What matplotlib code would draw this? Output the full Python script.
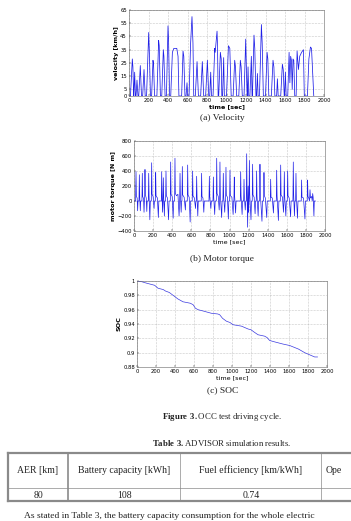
import matplotlib
matplotlib.use("Agg")
import matplotlib.pyplot as plt

plt.rcParams["mathtext.fontset"] = "custom"
plt.rcParams["mathtext.rm"] = "Liberation Serif"
plt.rcParams["mathtext.bf"] = "Liberation Serif:bold"

# velocity breakpoints of the OCC cycle [s], [km/h]
vel_t = [0, 15, 34, 40, 48, 50, 58, 66, 72, 82, 92, 100, 116, 128, 140, 154, 166,
         180, 202, 210, 220, 232, 246, 252, 262, 286, 304, 310, 322, 336, 352, 358, 370,
         384, 400, 406, 416, 428, 445, 460, 490, 503, 512, 540, 554, 562, 574,
         585, 595, 602, 616, 632, 646, 656, 664, 680, 698, 712, 735, 752, 766,
         786, 804, 818, 828, 838, 846, 862, 879, 884, 903, 908, 914, 920, 937, 946, 952,
         960, 971, 978, 1000, 1020, 1034, 1048, 1068, 1084, 1092, 1104, 1126, 1142, 1150, 1162,
         1180, 1197, 1204, 1212, 1214, 1221, 1228, 1240, 1255, 1262, 1266, 1282, 1290, 1302,
         1308, 1317, 1324, 1338, 1358, 1366, 1378, 1400, 1416, 1424, 1434, 1460, 1477, 1486, 1496,
         1514, 1522, 1530, 1556, 1573, 1582, 1592, 1596, 1604, 1612,
         1628, 1642, 1650, 1658, 1666, 1674, 1682, 1690, 1700,
         1714, 1724, 1738, 1751, 1770, 1789, 1798, 1830, 1845, 1861, 1872, 1895]
vel_kmh = [0, 0, 28, 22, 0, 0, 18, 0, 0, 12, 0, 0, 23, 0, 0, 20, 0,
           0, 48, 30, 0, 0, 27, 24, 0, 0, 42, 38, 0, 0, 35, 30, 0,
           0, 53, 42, 0, 0, 33, 36, 36, 30, 0, 0, 34, 30, 0,
           0, 10, 0, 0, 40, 60, 40, 0, 0, 26, 0, 0, 26, 0,
           0, 27, 0, 0, 18, 0, 0, 36, 33, 49, 38, 0, 0, 33, 28, 0,
           0, 29, 0, 0, 38, 36, 0, 0, 27, 22, 0, 0, 27, 22, 0,
           0, 43, 20, 0, 0, 22, 0, 0, 30, 0, 0, 46, 36, 0,
           0, 17, 0, 0, 54, 40, 0, 0, 33, 28, 0, 0, 27, 22, 0,
           0, 13, 0, 0, 24, 20, 0, 0, 18, 0,
           0, 33, 10, 30, 27, 5, 28, 27, 0,
           0, 34, 20, 30, 33, 35, 0, 0, 28, 37, 36, 0]

# motor torque breakpoints [s], [N m]
torque_t = [0, 16, 21, 25, 33, 38, 42, 52, 56, 60, 66, 70,
            83, 87, 91, 100, 105, 109, 111, 115, 119, 128, 134, 138,
            150, 154, 158, 166, 171, 181, 185, 189, 200, 210, 214,
            223, 227, 231, 245, 255, 260, 286, 290, 294, 299, 303, 307, 311, 318, 322,
            331, 335, 339, 350, 362, 367, 380, 384, 388, 400, 410, 415,
            425, 429, 433, 445, 460, 472, 477, 478, 482, 486, 494, 498,
            502, 506, 510, 525, 538, 542, 558, 562, 566, 578, 588, 593,
            610, 614, 618, 632, 644, 648, 652, 656, 660, 668, 673,
            704, 708, 712, 722, 731, 736, 785, 789, 793, 805, 810,
            827, 831, 835, 845, 850, 862, 866, 870, 882, 892, 896, 900, 904, 918, 923,
            931, 935, 939, 950, 955, 959, 963, 967, 978, 988, 993,
            1001, 1005, 1009, 1025, 1038, 1043, 1046, 1050, 1054, 1064, 1069,
            1113, 1117, 1121, 1132, 1137, 1148, 1152, 1156, 1165, 1170,
            1176, 1180, 1184, 1190, 1195, 1200, 1204, 1208, 1212, 1225, 1230,
            1238, 1242, 1246, 1258, 1268, 1273, 1280, 1284, 1288, 1300, 1305,
            1315, 1319, 1323, 1340, 1345, 1357, 1361, 1365, 1375, 1390, 1395,
            1427, 1431, 1435, 1448, 1460, 1465, 1490, 1494, 1498, 1512, 1517,
            1532, 1536, 1540, 1555, 1565, 1569, 1570, 1574, 1578, 1590, 1595,
            1605, 1609, 1613, 1625, 1640, 1645, 1664, 1668, 1672, 1680, 1685,
            1692, 1696, 1700, 1712, 1717, 1751, 1755, 1759, 1775, 1790, 1795,
            1814, 1818, 1822, 1830, 1838, 1843, 1848, 1860, 1866, 1871, 1876, 1884, 1888, 1900]
torque_nm = [0, 0, 390, 60, 40, -130, 0, 0, 350, 50, -130, 0,
             0, 370, 60, 30, -150, 0, 0, 420, 80, 40, -140, 0,
             0, 370, 60, -250, 0, 0, 510, 90, 60, -100, 0,
             0, 380, 70, 40, -220, 0, 0, 390, 60, -150, 0, 310, 50, -200, 0,
             0, 400, 70, 40, -250, 0, 0, 520, 90, 60, -230, 0,
             0, 570, 100, 70, 90, -200, 0, 0, 370, 60, -150, 0,
             0, 460, 80, 50, -120, 0, 0, 480, 80, 50, -280, 0,
             0, 400, 70, 40, -100, 0, 0, 330, 60, -200, 0,
             0, 370, 60, 40, -150, 0, 0, 330, 60, -100, 0,
             0, 320, 50, -180, 0, 0, 570, 100, 60, -120, 0, 520, 90, -220, 0,
             0, 370, 60, -150, 0, 0, 450, 80, 50, -240, 0,
             0, 410, 70, 50, -180, 0, 0, 320, 60, -160, 0,
             0, 390, 70, -180, 0, 0, 290, 50, -120, 0,
             0, 630, 100, -350, 200, -150, 0, 540, 90, -250, 0,
             0, 490, 80, 50, -170, 0, 0, 400, 70, -200, 0,
             0, 490, 90, -270, 0, 0, 380, 70, 40, -220, 0,
             0, 290, 50, 40, -160, 0, 0, 410, 70, -260, 0,
             0, 480, 80, 50, -150, 0, 0, 390, 60, -200, 0,
             0, 400, 70, 40, -210, 0, 0, 520, 80, -200, 0,
             0, 370, 60, -230, 0, 0, 280, 50, 40, -240, 0,
             0, 280, 60, 40, 0, 150, 40, 60, 0, 100, 50, -200, 0, 0]

# battery state of charge
soc_t = [0, 50, 100, 186, 220, 277, 300, 340, 400, 430, 484, 560, 590, 615, 642, 700,
         782, 850, 870, 900, 940, 980, 1010, 1100, 1170, 1200, 1230, 1274, 1344, 1370,
         1396, 1450, 1537, 1607, 1700, 1765, 1800, 1835, 1870, 1900]
soc = [1.0, 0.999, 0.997, 0.994, 0.990, 0.988, 0.986, 0.984, 0.978, 0.975, 0.971, 0.969,
       0.967, 0.962, 0.960, 0.958, 0.955, 0.954, 0.953, 0.948, 0.944, 0.942, 0.939, 0.937,
       0.933, 0.932, 0.929, 0.925, 0.923, 0.921, 0.917, 0.915, 0.912, 0.910, 0.905, 0.900,
       0.898, 0.896, 0.894, 0.894]

time_ticks = list(range(0, 2001, 200))
vel_ticks = [0, 5, 15, 25, 35, 45, 55, 65]
torque_ticks = list(range(-400, 801, 200))
soc_ticks = [0.88, 0.90, 0.92, 0.94, 0.96, 0.98, 1.0]
soc_labels = ["0.88", "0.9", "0.92", "0.94", "0.96", "0.98", "1"]

# table 3 contents
table_head = ["AER [km]", "Battery capacity [kWh]", "Fuel efficiency [km/kWh]", "Ope"]
table_row = ["80", "108", "0.74", ""]

W, H = 351, 521
fig = plt.figure(figsize=(W / 100, H / 100), dpi=100)
serif = "Liberation Serif"
ink = "#222222"


def box(l, t, r, b):
    return [l / W, 1 - b / H, (r - l) / W, (b - t) / H]


def style(ax, yticks, ylab, bold_x):
    ax.set_xlim(0, 2000)
    ax.set_xticks(time_ticks)
    ax.set_yticks(yticks)
    ax.grid(True, linestyle=":", linewidth=0.4, color="#999999")
    ax.tick_params(direction="in", labelsize=3.8, length=1.5, width=0.3, pad=1.5)
    for s in ax.spines.values():
        s.set_linewidth(0.4)
        s.set_color("#666666")
    ax.set_xlabel("time [sec]", fontsize=4.6, labelpad=1,
                  fontweight="bold" if bold_x else "normal")
    ax.set_ylabel(ylab, fontsize=4.6, labelpad=1, fontweight="bold")


# (a) velocity
ax1 = fig.add_axes(box(129, 10, 324, 96))
ax1.plot(vel_t, vel_kmh, color="#1f1fe8", linewidth=0.55)
ax1.set_ylim(0, 65)
style(ax1, vel_ticks, "velocity [km/h]", True)

# (b) motor torque
ax2 = fig.add_axes(box(134, 141, 325, 231))
ax2.plot(torque_t, torque_nm, color="#1f1fe8", linewidth=0.5)
ax2.set_ylim(-400, 800)
style(ax2, torque_ticks, "motor torque [N m]", False)

# (c) SOC
ax3 = fig.add_axes(box(137, 281, 327, 367))
ax3.plot(soc_t, soc, color="#3a3ae0", linewidth=0.5)
ax3.set_ylim(0.88, 1.0)
style(ax3, soc_ticks, "SOC", False)
ax3.set_yticklabels(soc_labels)

# page overlay in pixel coordinates for captions and table
pg = fig.add_axes([0, 0, 1, 1])
pg.set_xlim(0, W)
pg.set_ylim(H, 0)
pg.axis("off")

cap = dict(fontsize=6.8, family=serif, ha="center", va="center", color=ink)
pg.text(222, 118, "(a) Velocity", **cap)
pg.text(222, 259, "(b) Motor torque", **cap)
pg.text(223, 390, "(c) SOC", **cap)

pg.text(222, 417, r"$\bf{Figure\ 3.}$OCC test driving cycle.", fontsize=6.3,
        family=serif, ha="center", va="center", color=ink)
pg.text(222, 443, r"$\bf{Table\ 3.}$ADVISOR simulation results.", fontsize=6.3,
        family=serif, ha="center", va="center", color=ink)

# table grid
top, mid, bot = 453, 488, 501
cols = [8, 68, 180, 321]
grey = "#8a8a8a"
pg.plot([cols[0], W], [top, top], color=grey, linewidth=1.6)
pg.plot([cols[0], W], [bot, bot], color=grey, linewidth=1.6)
pg.plot([cols[0], W], [mid, mid], color=grey, linewidth=0.5)
pg.plot([cols[0], cols[0]], [top, bot], color=grey, linewidth=1.6)
pg.plot([cols[1], cols[1]], [top, bot], color=grey, linewidth=1.2)
for c in cols[2:]:
    pg.plot([c, c], [top, bot], color=grey, linewidth=0.5)

centers = [38, 124, 251]
for i, x in enumerate(centers):
    pg.text(x, 470.5, table_head[i], fontsize=7.0, family=serif,
            ha="center", va="center", color=ink)
    pg.text(x, 495, table_row[i], fontsize=7.0, family=serif,
            ha="center", va="center", color=ink)
pg.text(326, 470.5, table_head[3], fontsize=7.0, family=serif,
        ha="left", va="center", color=ink)

# running text of the page below the table
pg.text(24, 519.5, "As stated in Table 3, the battery capacity consumption for the whole electric",
        fontsize=6.8, family=serif, ha="left", va="bottom", color=ink)

fig.savefig("out.png", dpi=100)
